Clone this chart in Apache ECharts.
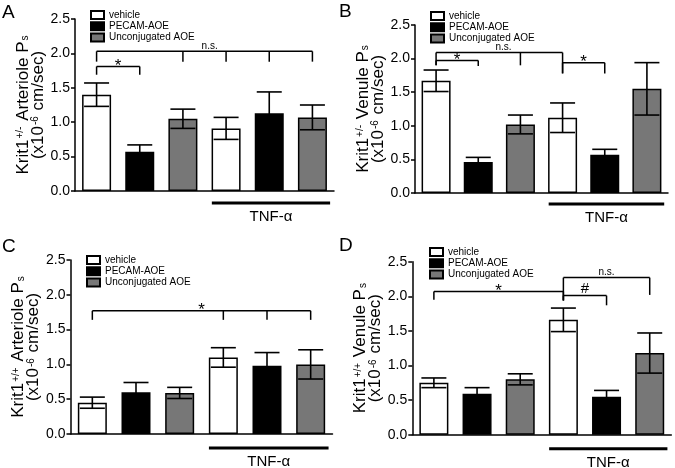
<!DOCTYPE html>
<html>
<head>
<meta charset="utf-8">
<script src="https://cdn.jsdelivr.net/npm/echarts@6/dist/echarts.min.js"></script>
<style>
html,body{margin:0;padding:0;background:#fff;}
#chart{width:675px;height:468px;}
</style>
</head>
<body>
<div id="chart"></div>
<script>
// ---------------- data ----------------
const categories = ['vehicle', 'PECAM-AOE', 'Unconjugated AOE', 'vehicle + TNF-α', 'PECAM-AOE + TNF-α', 'Unconjugated AOE + TNF-α'];
const groups = ['vehicle', 'PECAM-AOE', 'Unconjugated AOE'];
const yTicks = [0, 0.5, 1.0, 1.5, 2.0, 2.5];

// Panel A: Krit1+/- arteriole
const meanA = [1.40, 0.57, 1.05, 0.91, 1.13, 1.07];
const semA  = [0.17, 0.10, 0.14, 0.16, 0.31, 0.18];
// Panel B: Krit1+/- venule
const meanB = [1.67, 0.46, 1.02, 1.12, 0.57, 1.55];
const semB  = [0.16, 0.07, 0.14, 0.22, 0.08, 0.39];
// Panel C: Krit1+/+ arteriole
const meanC = [0.45, 0.60, 0.59, 1.10, 0.98, 1.00];
const semC  = [0.08, 0.14, 0.08, 0.14, 0.19, 0.21];
// Panel D: Krit1+/+ venule
const meanD = [0.75, 0.59, 0.80, 1.66, 0.55, 1.18];
const semD  = [0.07, 0.09, 0.08, 0.17, 0.09, 0.29];

// significance brackets: top y, legs [category index, leg end y], label, label x (category units)
const bracketsA = [
  {y: 2.03, legs: [[0, 1.88], [2, 1.88], [3, 1.88], [4, 1.88], [5, 1.88]], text: 'n.s.', tx: 2.62},
  {y: 1.81, legs: [[0, 1.69], [1, 1.69]], text: '*', tx: 0.5}
];
const bracketsB = [
  {y: 2.09, legs: [[0, 1.90], [2, 1.90], [3, 1.78]], text: 'n.s.', tx: 1.6},
  {y: 1.97, legs: [[0, 1.90], [1, 1.89]], text: '*', tx: 0.5},
  {y: 1.94, legs: [[3, 1.78], [4, 1.78]], text: '*', tx: 3.5}
];
const bracketsC = [
  {y: 1.77, legs: [[0, 1.64], [3, 1.64], [4, 1.64], [5, 1.64]], text: '*', tx: 2.5}
];
const bracketsD = [
  {y: 2.07, legs: [[0, 1.95], [3, 1.94]], text: '*', tx: 1.5},
  {y: 2.27, legs: [[3, 1.94], [5, 2.02]], text: 'n.s.', tx: 4.0},
  {y: 2.01, legs: [[3, 1.94], [4, 1.87]], text: '#', tx: 3.5}
];
const tnfRange = [3, 5];   // categories receiving TNF-α
const tnfLabel = 'TNF-α';

// ---------------- layout / style ----------------
const FONT = 'Liberation Sans, Arial, Helvetica, sans-serif';
const groupColors = ['#ffffff', '#000000', '#777777'];
const panels = [
  {letter: 'A', mean: meanA, sem: semA, brackets: bracketsA, geno: '+/-', vessel: 'Arteriole',
   grid: {left: 75, top: 19, width: 259, height: 172}, legend: {left: 90, top: 10}, letterPos: [2, 2], tnfDy: 12},
  {letter: 'B', mean: meanB, sem: semB, brackets: bracketsB, geno: '+/-', vessel: 'Venule',
   grid: {left: 415, top: 25, width: 253, height: 168}, legend: {left: 430, top: 11}, letterPos: [339, 1], tnfDy: 11},
  {letter: 'C', mean: meanC, sem: semC, brackets: bracketsC, geno: '+/+', vessel: 'Arteriole',
   grid: {left: 70.5, top: 260, width: 262, height: 174}, legend: {left: 86, top: 255}, letterPos: [2, 236], tnfDy: 14},
  {letter: 'D', mean: meanD, sem: semD, brackets: bracketsD, geno: '+/+', vessel: 'Venule',
   grid: {left: 412.3, top: 261.7, width: 259, height: 173}, legend: {left: 429, top: 247}, letterPos: [339, 235], tnfDy: 14}
];

const option = {
  backgroundColor: '#fff',
  animation: false,
  textStyle: {fontFamily: FONT},
  grid: [], xAxis: [], yAxis: [], legend: [], series: [], graphic: []
};

function xAt(api, t) {
  const x0 = api.coord([0, 0])[0];
  const band = api.size([1, 0])[0];
  return x0 + t * band;
}

panels.forEach((p, i) => {
  option.grid.push(Object.assign({containLabel: false}, p.grid));
  option.xAxis.push({
    type: 'category', gridIndex: i, data: categories, boundaryGap: true,
    axisLine: {lineStyle: {color: '#000', width: 1.5}},
    axisTick: {alignWithLabel: true, length: 4, lineStyle: {color: '#000', width: 1.5}},
    axisLabel: {show: false}, splitLine: {show: false}
  });
  option.yAxis.push({
    type: 'value', gridIndex: i, min: yTicks[0], max: yTicks[yTicks.length - 1], interval: 0.5,
    axisLine: {show: true, lineStyle: {color: '#000', width: 1.5}},
    axisTick: {show: true, length: 4, lineStyle: {color: '#000', width: 1.5}},
    axisLabel: {color: '#000', fontSize: 14, fontFamily: FONT, margin: 5, formatter: v => v.toFixed(1)},
    splitLine: {show: false},
    name: '{n|Krit1}{sup|' + p.geno + '}{n| ' + p.vessel + ' P}{sub|s}\n{n|(x10}{sup|-6}{n| cm/sec)}',
    nameLocation: 'middle', nameRotate: 90, nameGap: 23,
    nameTextStyle: {
      color: '#000', fontFamily: FONT, fontSize: 17, lineHeight: 15, align: 'center',
      rich: {
        n: {fontSize: 17, fontFamily: FONT, color: '#000', lineHeight: 15},
        sup: {fontSize: 10, fontFamily: FONT, color: '#000', verticalAlign: 'top', lineHeight: 15, padding: [0, 1, 5, 1]},
        sub: {fontSize: 10, fontFamily: FONT, color: '#000', verticalAlign: 'bottom', lineHeight: 15, padding: [4, 0, 0, 1]}
      }
    }
  });
  option.legend.push({
    data: groups, orient: 'vertical', left: p.legend.left, top: p.legend.top,
    padding: 0, itemGap: 1.3, itemWidth: 13, itemHeight: 8, icon: 'rect', selectedMode: false,
    textStyle: {fontSize: 10, fontFamily: FONT, color: '#000', padding: [0, 0, 0, 0], lineHeight: 10}
  });
  groups.forEach((g, gi) => {
    option.series.push({
      type: 'bar', name: g, xAxisIndex: i, yAxisIndex: i,
      data: p.mean.map((v, k) => (k % 3 === gi ? v : '-')),
      barWidth: 29, barGap: '-100%',
      itemStyle: {color: groupColors[gi], borderColor: '#000', borderWidth: 1.5},
      z: 2
    });
  });
  // error bars
  option.series.push({
    type: 'custom', xAxisIndex: i, yAxisIndex: i, z: 5, silent: true,
    data: p.mean.map((v, k) => [k, v - p.sem[k], v + p.sem[k]]),
    renderItem: function (params, api) {
      const lo = api.coord([api.value(0), api.value(1)]);
      const hi = api.coord([api.value(0), api.value(2)]);
      const hw = 12.5;
      const st = {stroke: '#000', lineWidth: 1.6, fill: null};
      return {type: 'group', children: [
        {type: 'line', shape: {x1: hi[0], y1: hi[1], x2: lo[0], y2: lo[1]}, style: st},
        {type: 'line', shape: {x1: hi[0] - hw, y1: hi[1], x2: hi[0] + hw, y2: hi[1]}, style: st},
        {type: 'line', shape: {x1: lo[0] - hw, y1: lo[1], x2: lo[0] + hw, y2: lo[1]}, style: st}
      ]};
    }
  });
  // significance brackets
  option.series.push({
    type: 'custom', xAxisIndex: i, yAxisIndex: i, z: 6, silent: true, clip: false,
    data: p.brackets.map((b, k) => [k, b.y]),
    renderItem: function (params, api) {
      const b = p.brackets[params.dataIndex];
      const yTop = api.coord([0, b.y])[1];
      const xs = b.legs.map(l => xAt(api, l[0]));
      const st = {stroke: '#000', lineWidth: 1.5, fill: null};
      const ch = [{type: 'line', shape: {x1: Math.min(...xs), y1: yTop, x2: Math.max(...xs), y2: yTop}, style: st}];
      b.legs.forEach((l, j) => {
        const yb = api.coord([0, l[1]])[1];
        ch.push({type: 'line', shape: {x1: xs[j], y1: yTop, x2: xs[j], y2: yb}, style: st});
      });
      const isNs = b.text === 'n.s.';
      const isStar = b.text === '*';
      ch.push({type: 'text', x: xAt(api, b.tx), y: yTop + (isNs ? 0 : (isStar ? 8 : 1)),
        style: {text: b.text, fill: '#000', font: (isNs ? '10px ' : (isStar ? '17px ' : '15px ')) + FONT, textAlign: 'center', textVerticalAlign: 'bottom'}});
      return {type: 'group', children: ch};
    }
  });
  // TNF-α bar under axis
  option.series.push({
    type: 'custom', xAxisIndex: i, yAxisIndex: i, z: 6, silent: true, clip: false,
    data: [[tnfRange[0], tnfRange[1]]],
    renderItem: function (params, api) {
      const y0 = api.coord([0, 0])[1] + p.tnfDy;
      const xa = xAt(api, api.value(0) - 0.33);
      const xb = xAt(api, api.value(1) + 0.41);
      return {type: 'group', children: [
        {type: 'line', shape: {x1: xa, y1: y0, x2: xb, y2: y0}, style: {stroke: '#000', lineWidth: 3}},
        {type: 'text', x: (xa + xb) / 2, y: y0 + 6.5,
         style: {text: tnfLabel, fill: '#000', font: '15px ' + FONT, textAlign: 'center', textVerticalAlign: 'top'}}
      ]};
    }
  });
  option.graphic.push({type: 'text', left: p.letterPos[0], top: p.letterPos[1] + 1,
    style: {text: p.letter, fill: '#000', font: '19px ' + FONT}});
});

const chart = echarts.init(document.getElementById('chart'), null, {renderer: 'canvas'});
chart.setOption(option);
</script>
</body>
</html>
